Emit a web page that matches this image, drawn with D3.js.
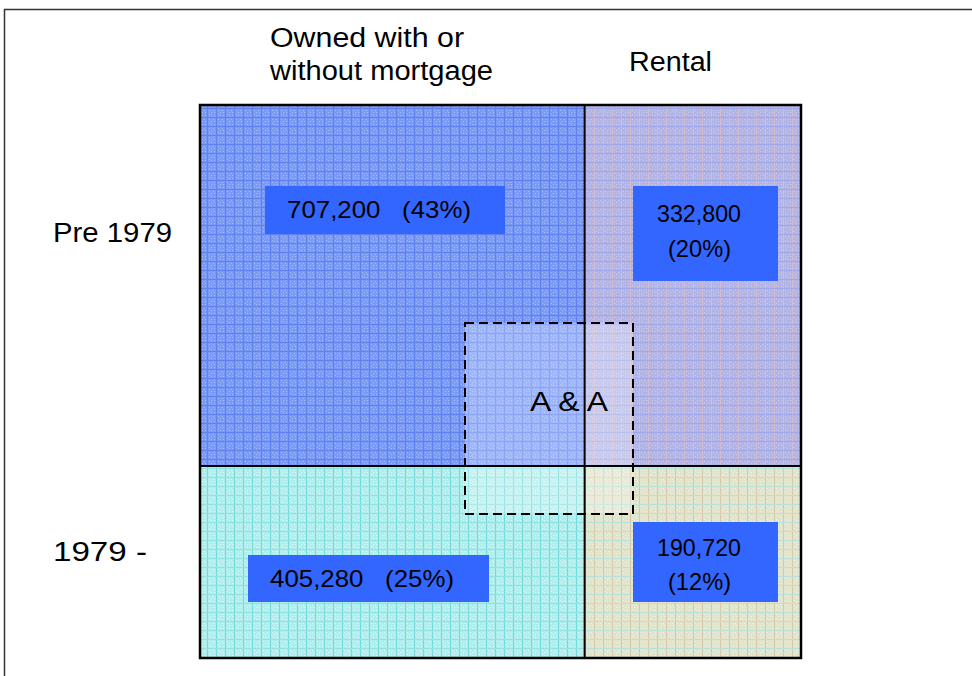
<!DOCTYPE html>
<html>
<head>
<meta charset="utf-8">
<script src="https://cdn.jsdelivr.net/npm/d3@7"></script>
<style>
body{margin:0;background:#fff;}
svg{display:block;font-family:Arial,"Liberation Sans",sans-serif;}
</style>
</head>
<body>
<div id="chartDiv"></div>
<script>
// data
let rows = ["Pre 1979", "1979 -"];
let cols = [["Owned with or", "without mortgage"], ["Rental"]];
let counts = [[707200, 332800], [405280, 190720]];
let shares = [[43, 20], [25, 12]];
let colSplit = 0.64;   // where the divider sits
let rowSplit = 0.653;
let overlapLabel = "A & A";

let width = 972, height = 676;
let svg = d3.select("#chartDiv").append("svg").attr("width", width).attr("height", height);

// outer frame
svg.append("rect").attr("x", 4.5).attr("y", 9.5).attr("width", 1000).attr("height", 700)
  .style("fill", "none").style("stroke", "#333").style("stroke-width", 1.5);

let scaleX = d3.scaleLinear().domain([0, 1]).range([200, 801]);
let scaleY = d3.scaleLinear().domain([0, 1]).range([105, 658]);
let xEdges = [0, colSplit, 1];
let yEdges = [0, rowSplit, 1];

// textures, one per cell
let tex = [
  [{base: "#7a9af6", line: "#5f82f0", dot: "#a6bbf9", line2: "#5f82f0"},
   {base: "#b2b4e6", line: "#d9bccb", dot: "#c8caf0", line2: "#a0a8e8"}],
  [{base: "#b0eeee", line: "#72dcdc", dot: "#daf8f8", line2: "#8ee4e2"},
   {base: "#e0e4cc", line: "#d8caa8", dot: "#eef2e2", line2: "#b8e2da"}]
];
let defs = svg.append("defs");
tex.forEach((r, i) => r.forEach((t, j) => {
  let p = defs.append("pattern").attr("id", "tex" + i + j).attr("patternUnits", "userSpaceOnUse")
    .attr("width", 9).attr("height", 9);
  p.append("rect").attr("width", 9).attr("height", 9).style("fill", t.base);
  p.append("rect").attr("x", 0).attr("y", 0).attr("width", 1).attr("height", 9).style("fill", t.line);
  p.append("rect").attr("x", 0).attr("y", 0).attr("width", 9).attr("height", 1).style("fill", t.line2);
  [[2, 2], [4, 4], [2, 6], [6, 2], [7, 7], [4, 7], [7, 4]].forEach(d =>
    p.append("rect").attr("x", d[0]).attr("y", d[1]).attr("width", 1).attr("height", 1).style("fill", t.dot));
}));

let cells = [];
rows.forEach((r, i) => cols.forEach((c, j) => cells.push({i: i, j: j, n: counts[i][j], s: shares[i][j]})));

svg.selectAll("rect.cell").data(cells).enter().append("rect")
  .attr("class", "cell")
  .attr("x", d => scaleX(xEdges[d.j]))
  .attr("y", d => scaleY(yEdges[d.i]))
  .attr("width", d => scaleX(xEdges[d.j + 1]) - scaleX(xEdges[d.j]))
  .attr("height", d => scaleY(yEdges[d.i + 1]) - scaleY(yEdges[d.i]))
  .style("fill", d => "url(#tex" + d.i + d.j + ")");

// overlap box (lighter area + dashed outline)
let ov = {x0: 465, y0: 323, x1: 633, y1: 514};
svg.append("rect").attr("x", ov.x0).attr("y", ov.y0).attr("width", ov.x1 - ov.x0).attr("height", ov.y1 - ov.y0)
  .style("fill", "#fff").style("opacity", 0.28);

// dividers and border
svg.append("line").attr("x1", scaleX(colSplit)).attr("x2", scaleX(colSplit)).attr("y1", scaleY(0)).attr("y2", scaleY(1))
  .style("stroke", "#000").style("stroke-width", 2);
svg.append("line").attr("x1", scaleX(0)).attr("x2", scaleX(1)).attr("y1", scaleY(rowSplit)).attr("y2", scaleY(rowSplit))
  .style("stroke", "#000").style("stroke-width", 2);
svg.append("rect").attr("x", scaleX(0)).attr("y", scaleY(0)).attr("width", scaleX(1) - scaleX(0)).attr("height", scaleY(1) - scaleY(0))
  .style("fill", "none").style("stroke", "#000").style("stroke-width", 2.5);

svg.append("rect").attr("x", ov.x0).attr("y", ov.y0).attr("width", ov.x1 - ov.x0).attr("height", ov.y1 - ov.y0)
  .style("fill", "none").style("stroke", "#000").style("stroke-width", 2).style("stroke-dasharray", "9,5");

// stretched text helper: left x, baseline y, width, font size
function label(t, x, y, w, fs) {
  svg.append("text").attr("x", x).attr("y", y).attr("textLength", w).attr("lengthAdjust", "spacingAndGlyphs")
    .attr("xml:space", "preserve").style("white-space", "pre")
    .style("font-size", fs + "px").style("fill", "#000").text(t);
}

label(overlapLabel, 530, 411, 78, 28);

// value boxes: [x, y, w, h] placed inside each cell
let boxes = [[[265, 186, 240, 48], [633, 186, 145, 95]], [[248, 555, 241, 47], [633, 522, 145, 80]]];
let fmt = d3.format(",");
svg.selectAll("rect.lab").data(cells).enter().append("rect")
  .attr("class", "lab")
  .attr("x", d => boxes[d.i][d.j][0]).attr("y", d => boxes[d.i][d.j][1])
  .attr("width", d => boxes[d.i][d.j][2]).attr("height", d => boxes[d.i][d.j][3])
  .style("fill", "#3366ff");
cells.forEach(d => {
  let b = boxes[d.i][d.j];
  if (d.j == 0) {
    label(fmt(d.n) + "   (" + d.s + "%)", b[0] + 22, b[1] + 32, 184, 24);
  } else {
    label(fmt(d.n), b[0] + 24, b[1] + 36 - (d.i ? 2 : 0), 84, 24);
    label("(" + d.s + "%)", b[0] + 35, b[1] + 71 - (d.i ? 3 : 0), 63, 24);
  }
});

// column headings
label(cols[0][0], 270, 47, 194, 27);
label(cols[0][1], 270, 80, 223, 27);
label(cols[1][0], 629, 71, 83, 27);

// row headings
label(rows[0], 53, 242, 119, 27);
label(rows[1], 53, 561, 94, 27);
</script>
</body>
</html>
